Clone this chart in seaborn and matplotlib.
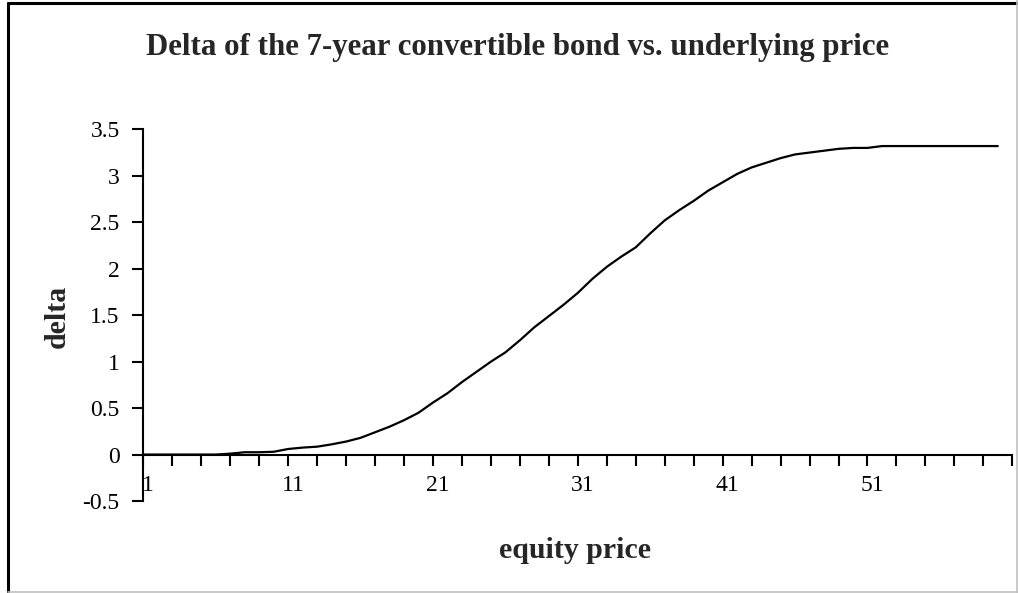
import pandas as pd
import matplotlib.pyplot as plt
import matplotlib.transforms as mtransforms
import seaborn as sns
from matplotlib.lines import Line2D

# Data
equity_price = list(range(1, 61))
delta = [0.0, 0.0, 0.0, 0.0, 0.0, 0.0, 0.01, 0.025, 0.025, 0.03,
         0.06, 0.075, 0.085, 0.11, 0.14, 0.18, 0.24, 0.30, 0.37, 0.45,
         0.56, 0.66, 0.78, 0.89, 1.00, 1.10, 1.23, 1.37, 1.49, 1.61,
         1.74, 1.89, 2.02, 2.13, 2.23, 2.38, 2.52, 2.63, 2.73, 2.84,
         2.93, 3.02, 3.09, 3.14, 3.19, 3.23, 3.25, 3.27, 3.29, 3.30,
         3.30, 3.32, 3.32, 3.32, 3.32, 3.32, 3.32, 3.32, 3.32, 3.32]
x_labels = [1, 11, 21, 31, 41, 51]
y_ticks = [-0.5, 0, 0.5, 1, 1.5, 2, 2.5, 3, 3.5]

df = pd.DataFrame({"equity price": equity_price, "delta": delta})

sns.set_style("white")
plt.rcParams['font.family'] = ['Liberation Serif', 'DejaVu Serif']

fig = plt.figure(figsize=(10.18, 5.93), dpi=100)
ax = fig.add_axes([0.1408, 0.1551, 0.8536, 0.6268])

sns.lineplot(data=df, x="equity price", y="delta", color="black", linewidth=1.6, ax=ax)

ax.set_xlim(1, 61)
ax.set_ylim(-0.5, 3.5)
ax.set_yticks(y_ticks)
ax.set_yticklabels([f"{v:g}" for v in y_ticks])
ax.set_xticks(x_labels)
ax.set_xticklabels([str(v) for v in x_labels])
ax.set_xticks([v for v in range(3, 62, 2) if v not in x_labels], minor=True)
ax.tick_params(axis="both", which="both", direction="out", length=8, width=1.5,
               color="black", bottom=True, left=True, labelsize=17, labelcolor="black")
ax.tick_params(axis="y", pad=9)
ax.tick_params(axis="x", pad=7)
ax.set_xlabel("")
ax.set_ylabel("")

for side in ["top", "right"]:
    ax.spines[side].set_visible(False)
ax.spines["bottom"].set_position(("data", 0))
ax.spines["left"].set_linewidth(1.5)
ax.spines["bottom"].set_linewidth(1.5)
ax.spines["left"].set_color("black")
ax.spines["bottom"].set_color("black")

fig.text(518 / 1018, 1 - 55 / 593, "Delta of the 7-year convertible bond vs. underlying price",
         ha="center", va="baseline", fontsize=22.2, fontweight="bold")
fig.text(575 / 1018, 1 - 558 / 593, "equity price",
         ha="center", va="baseline", fontsize=21.5, fontweight="bold")
fig.text(57 / 1018, 1 - 316 / 593, "delta", rotation=90,
         ha="center", va="center", fontsize=21.5, fontweight="bold")

# chart border
fig.add_artist(Line2D([7.5 / 1018, 7.5 / 1018], [0, 1 - 3 / 593], color="black", lw=2.2))
fig.add_artist(Line2D([7.5 / 1018, 1], [1 - 3 / 593, 1 - 3 / 593], color="black", lw=2.2))
fig.add_artist(Line2D([7.5 / 1018, 1], [1.5 / 593, 1.5 / 593], color="#c0c0c0", lw=1.2))
fig.add_artist(Line2D([1016.5 / 1018, 1016.5 / 1018], [0, 1], color="#c0c0c0", lw=1.2))

# Excel draws the category labels a little to the right of the tick
fig.canvas.draw()
shift = mtransforms.ScaledTranslation(5 / 100, 0, fig.dpi_scale_trans)
for tick in ax.xaxis.get_major_ticks():
    tick.label1.set_transform(tick.label1.get_transform() + shift)

fig.savefig("out.png", dpi=100)
